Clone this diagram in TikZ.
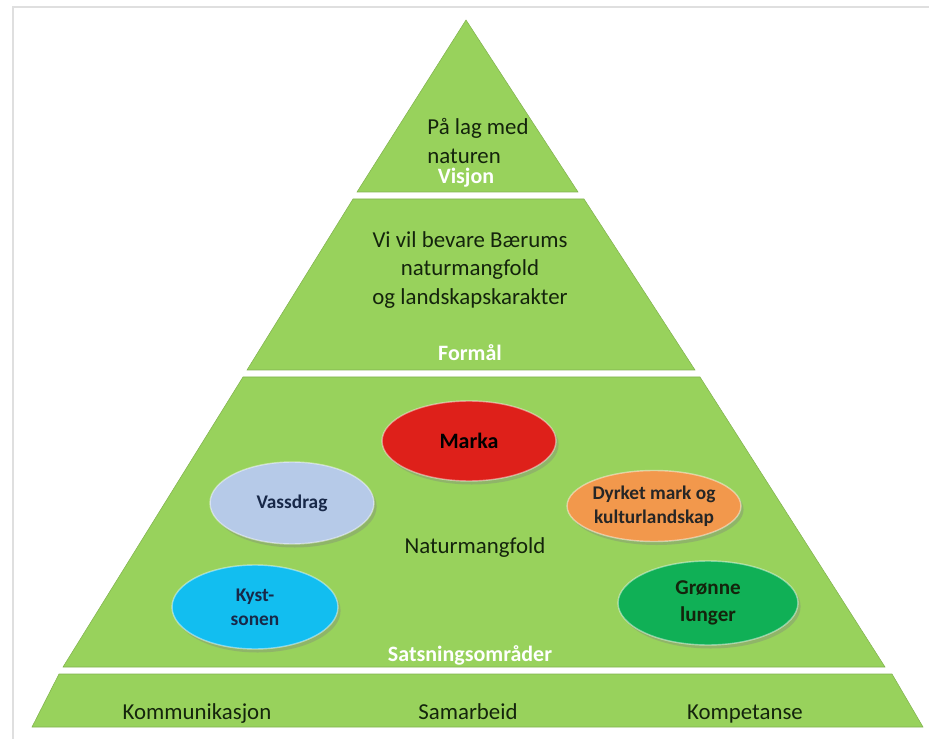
\documentclass[tikz,border=0pt]{standalone}
\usepackage{fontspec}
\setmainfont{Carlito}
\usetikzlibrary{shapes.geometric,shadows}

\definecolor{pyrgreen}{RGB}{152,210,92}
\definecolor{darktext}{RGB}{20,36,12}
\definecolor{markared}{RGB}{222,32,26}
\definecolor{vassblue}{RGB}{182,202,232}
\definecolor{dyrkorange}{RGB}{242,152,76}
\definecolor{kystcyan}{RGB}{18,190,240}
\definecolor{lungegreen}{RGB}{16,176,86}
\definecolor{navytext}{RGB}{24,40,72}

\begin{document}
\begin{tikzpicture}[x=0.02cm,y=-0.02cm,
            tier/.style={fill=pyrgreen,draw=pyrgreen!85!black,line width=0.3pt},
            maintext/.style={text=darktext,font=\fontsize{13}{16}\selectfont,align=center},
            tierlab/.style={text=white,font=\fontsize{12.5}{15}\selectfont\bfseries},
            area/.style={ellipse,inner sep=0pt,align=center,text=navytext,
              draw=white,draw opacity=0.45,line width=0.8pt,
              font=\fontsize{11}{13.5}\selectfont\bfseries,
              drop shadow={shadow xshift=1.5pt,shadow yshift=-2pt,opacity=0.35}}
          ]
          \useasboundingbox (0,0) rectangle (929,739);
          %frame
          \draw[gray!25,line width=1.2pt] (13,739) -- (13,7) -- (929,7);

          %tiers
          \path[tier] (466,20) -- (578,192) -- (357,192) -- cycle;
          \path[tier] (353,199) -- (584,199) -- (695,370) -- (247,370) -- cycle;
          \path[tier] (243,377) -- (700,377) -- (885,667) -- (63,667) -- cycle;
          \path[tier] (59,674) -- (892,674) -- (923,727) -- (32,727) -- cycle;

          %visjon
          \node[maintext,align=left] (vision) at (478,141) {På lag med\\naturen};
          \node[tierlab] (visjon) at (466,178) {Visjon};

          %formaal
          \node[maintext] (purpose) at (470,270) {Vi vil bevare Bærums\\naturmangfold\\og landskapskarakter};
          \node[tierlab] (formaal) at (470,353) {Formål};

          %satsningsomraader
          \node[area,fill=markared,text=black,font=\fontsize{12.5}{15}\selectfont\bfseries,minimum width=3.48cm,minimum height=1.6cm] (marka) at (469,441) {Marka};
          \node[area,fill=vassblue,minimum width=3.28cm,minimum height=1.64cm] (vassdrag) at (292,503) {Vassdrag};
          \node[area,fill=dyrkorange,text=black!85,minimum width=3.4cm,minimum height=1.42cm] (dyrket) at (654,506) {Dyrket mark og\\kulturlandskap};
          \node[area,fill=kystcyan,minimum width=3.32cm,minimum height=1.68cm] (kyst) at (255,607) {Kyst-\\sonen};
          \node[area,fill=lungegreen,text=darktext,font=\fontsize{12}{15}\selectfont\bfseries,minimum width=3.6cm,minimum height=1.68cm] (lunger) at (708,603) {Grønne\\lunger};
          \node[maintext] (naturmangfold) at (475,548) {Naturmangfold};
          \node[tierlab] (satsning) at (470,655) {Satsningsområder};

          %grunnmur
          \node[maintext,anchor=base] (komm) at (197,719) {Kommunikasjon};
          \node[maintext,anchor=base] (samarbeid) at (468,719) {Samarbeid};
          \node[maintext,anchor=base] (kompetanse) at (745,719) {Kompetanse};
      \end{tikzpicture}
\end{document}
